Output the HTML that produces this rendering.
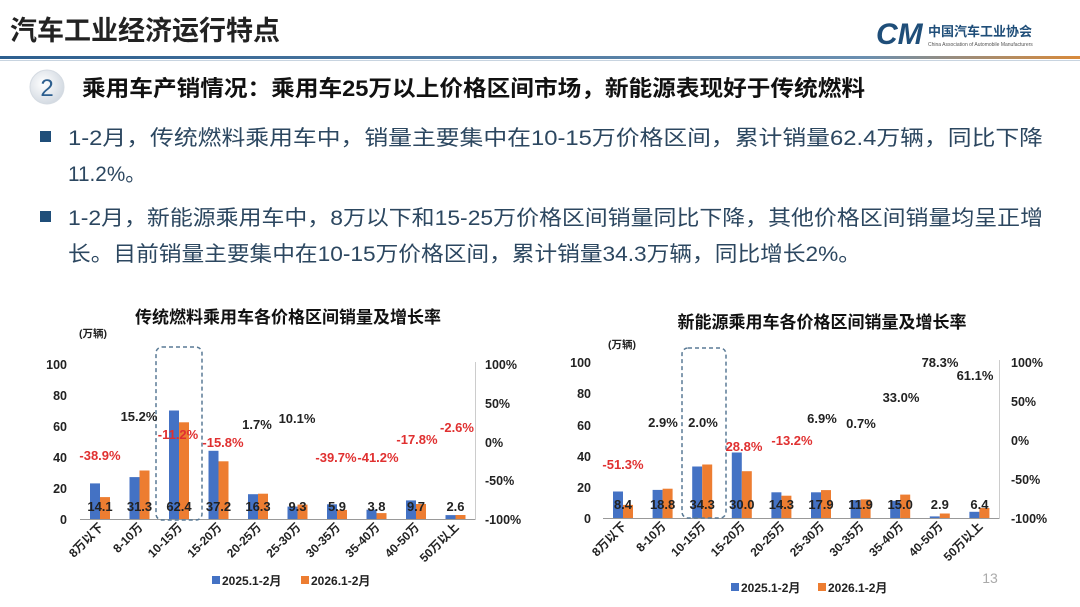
<!DOCTYPE html>
<html><head><meta charset="utf-8"><style>
html,body{margin:0;padding:0;background:#fff;}
svg{display:block;font-family:"Liberation Sans","Noto Sans CJK SC",sans-serif;}
</style></head><body>
<svg width="1080" height="607" viewBox="0 0 1080 607" xmlns="http://www.w3.org/2000/svg">
<defs>
<linearGradient id="ln" x1="0" x2="1" y1="0" y2="0">
<stop offset="0" stop-color="#2d5f8f"/><stop offset="0.8" stop-color="#6a8fb0"/><stop offset="1" stop-color="#d98a3a"/>
</linearGradient>
<radialGradient id="circ" cx="0.4" cy="0.4" r="0.7"><stop offset="0" stop-color="#ffffff"/><stop offset="1" stop-color="#cdd5de"/></radialGradient>
</defs>
<rect width="1080" height="607" fill="#fff"/>
<text x="10" y="40" font-size="27" font-weight="bold" fill="#222">汽车工业经济运行特点</text>
<text x="876" y="44" font-size="30" font-weight="bold" font-style="italic" fill="#1f4e79">CM</text>
<text x="928" y="36" font-size="13" font-weight="bold" fill="#1f4e79">中国汽车工业协会</text>
<text x="928" y="46" font-size="5" fill="#555">China Association of Automobile Manufacturers</text>
<rect x="0" y="56" width="1080" height="3" fill="url(#ln)"/>
<rect x="0" y="60" width="1080" height="1" fill="#c8d4e0"/>
<circle cx="47" cy="87" r="17" fill="url(#circ)" stroke="#d5dbe2"/>
<text x="47" y="96" font-size="24" fill="#2d5f8f" text-anchor="middle">2</text>
<text x="82" y="96" font-size="22" font-weight="bold" fill="#111" textLength="783" lengthAdjust="spacingAndGlyphs">乘用车产销情况：乘用车25万以上价格区间市场，新能源表现好于传统燃料</text>
<g fill="#2c4760" font-size="21">
<rect x="40" y="131" width="11" height="11" fill="#1f4e79"/>
<text x="68" y="145" textLength="975" lengthAdjust="spacingAndGlyphs">1-2月，传统燃料乘用车中，销量主要集中在10-15万价格区间，累计销量62.4万辆，同比下降</text>
<text x="68" y="181" textLength="78" lengthAdjust="spacingAndGlyphs">11.2%。</text>
<rect x="40" y="211" width="11" height="11" fill="#1f4e79"/>
<text x="68" y="225" textLength="975" lengthAdjust="spacingAndGlyphs">1-2月，新能源乘用车中，8万以下和15-25万价格区间销量同比下降，其他价格区间销量均呈正增</text>
<text x="68" y="261" textLength="793" lengthAdjust="spacingAndGlyphs">长。目前销量主要集中在10-15万价格区间，累计销量34.3万辆，同比增长2%。</text>
</g>

<!-- LEFT CHART -->
<g font-weight="bold">
<text x="288" y="323" font-size="17" text-anchor="middle" fill="#111">传统燃料乘用车各价格区间销量及增长率</text>
<text x="93" y="337" font-size="10.5" text-anchor="middle" fill="#222">(万辆)</text>
<g font-size="12.5" fill="#222" text-anchor="end">
<text x="67" y="524">0</text><text x="67" y="493">20</text><text x="67" y="462">40</text><text x="67" y="431">60</text><text x="67" y="400">80</text><text x="67" y="369">100</text>
</g>
<g font-size="12.5" fill="#222">
<text x="485" y="369">100%</text><text x="485" y="408">50%</text><text x="485" y="447">0%</text><text x="485" y="485">-50%</text><text x="485" y="524">-100%</text>
</g>
<line x1="80" y1="519.5" x2="476" y2="519.5" stroke="#999"/>
<line x1="475.5" y1="362" x2="475.5" y2="520" stroke="#ccc"/>
<g fill="#4472c4">
<rect x="90" y="483.4" width="10" height="35.6"/><rect x="129.5" y="477.1" width="10" height="41.9"/><rect x="169" y="410.5" width="10" height="108.5"/><rect x="208.5" y="450.8" width="10" height="68.2"/><rect x="248" y="494.2" width="10" height="24.8"/><rect x="287.5" y="506.6" width="10" height="12.4"/><rect x="327" y="504.3" width="10" height="14.7"/><rect x="366.5" y="509.7" width="10" height="9.3"/><rect x="406" y="500.4" width="10" height="18.6"/><rect x="445.5" y="515.1" width="10" height="3.9"/>
</g>
<g fill="#ed7d31">
<rect x="100" y="497.1" width="10" height="21.9"/><rect x="139.5" y="470.5" width="10" height="48.5"/><rect x="179" y="422.3" width="10" height="96.7"/><rect x="218.5" y="461.3" width="10" height="57.7"/><rect x="258" y="493.7" width="10" height="25.3"/><rect x="297.5" y="504.6" width="10" height="14.4"/><rect x="337" y="509.9" width="10" height="9.1"/><rect x="376.5" y="513.1" width="10" height="5.9"/><rect x="416" y="504" width="10" height="15"/><rect x="455.5" y="515" width="10" height="4"/>
</g>
<rect x="156" y="347" width="46" height="173" rx="6" fill="none" stroke="#5a7a95" stroke-width="1.5" stroke-dasharray="4,3"/>
<g font-size="13" fill="#222" text-anchor="middle">
<text x="100" y="511">14.1</text><text x="139.5" y="511">31.3</text><text x="179" y="511">62.4</text><text x="218.5" y="511">37.2</text><text x="258" y="511">16.3</text><text x="297.5" y="511">9.3</text><text x="337" y="511">5.9</text><text x="376.5" y="511">3.8</text><text x="416" y="511">9.7</text><text x="455.5" y="511">2.6</text>
</g>
<g font-size="13" text-anchor="middle">
<text x="100" y="460" fill="#e03030">-38.9%</text>
<text x="139" y="421" fill="#222">15.2%</text>
<text x="178" y="439" fill="#e03030">-11.2%</text>
<text x="223" y="447" fill="#e03030">-15.8%</text>
<text x="257" y="429" fill="#222">1.7%</text>
<text x="297" y="423" fill="#222">10.1%</text>
<text x="336" y="462" fill="#e03030">-39.7%</text>
<text x="378" y="462" fill="#e03030">-41.2%</text>
<text x="417" y="444" fill="#e03030">-17.8%</text>
<text x="457" y="432" fill="#e03030">-2.6%</text>
</g>
<g font-size="12" fill="#222" text-anchor="end">
<text transform="translate(104,528) rotate(-45)">8万以下</text>
<text transform="translate(143.5,528) rotate(-45)">8-10万</text>
<text transform="translate(183,528) rotate(-45)">10-15万</text>
<text transform="translate(222.5,528) rotate(-45)">15-20万</text>
<text transform="translate(262,528) rotate(-45)">20-25万</text>
<text transform="translate(301.5,528) rotate(-45)">25-30万</text>
<text transform="translate(341,528) rotate(-45)">30-35万</text>
<text transform="translate(380.5,528) rotate(-45)">35-40万</text>
<text transform="translate(420,528) rotate(-45)">40-50万</text>
<text transform="translate(459.5,528) rotate(-45)">50万以上</text>
</g>
<rect x="212" y="576" width="8" height="8" fill="#4472c4"/><text x="222" y="585" font-size="12" fill="#222">2025.1-2月</text>
<rect x="301" y="576" width="8" height="8" fill="#ed7d31"/><text x="311" y="585" font-size="12" fill="#222">2026.1-2月</text>
</g>

<!-- RIGHT CHART -->
<g font-weight="bold">
<text x="822" y="328" font-size="17" text-anchor="middle" fill="#111">新能源乘用车各价格区间销量及增长率</text>
<text x="622" y="348" font-size="10.5" text-anchor="middle" fill="#222">(万辆)</text>
<g font-size="12.5" fill="#222" text-anchor="end">
<text x="591" y="523">0</text><text x="591" y="492">20</text><text x="591" y="461">40</text><text x="591" y="430">60</text><text x="591" y="398">80</text><text x="591" y="367">100</text>
</g>
<g font-size="12.5" fill="#222">
<text x="1011" y="367">100%</text><text x="1011" y="406">50%</text><text x="1011" y="445">0%</text><text x="1011" y="484">-50%</text><text x="1011" y="523">-100%</text>
</g>
<line x1="603" y1="518.5" x2="1000" y2="518.5" stroke="#999"/>
<line x1="999.5" y1="360" x2="999.5" y2="519" stroke="#ccc"/>
<g fill="#4472c4">
<rect x="613" y="491.5" width="10" height="26.5"/><rect x="652.6" y="489.9" width="10" height="28.1"/><rect x="692.2" y="466.5" width="10" height="51.5"/><rect x="731.8" y="452.5" width="10" height="65.5"/><rect x="771.4" y="492.3" width="10" height="25.7"/><rect x="811" y="492.3" width="10" height="25.7"/><rect x="850.6" y="500.1" width="10" height="17.9"/><rect x="890.2" y="500.8" width="10" height="17.2"/><rect x="929.8" y="516.4" width="10" height="1.6"/><rect x="969.4" y="511.8" width="10" height="6.2"/>
</g>
<g fill="#ed7d31">
<rect x="623" y="504.9" width="10" height="13.1"/><rect x="662.6" y="488.7" width="10" height="29.3"/><rect x="702.2" y="464.5" width="10" height="53.5"/><rect x="741.8" y="471.2" width="10" height="46.8"/><rect x="781.4" y="495.7" width="10" height="22.3"/><rect x="821" y="490.1" width="10" height="27.9"/><rect x="860.6" y="499.4" width="10" height="18.6"/><rect x="900.2" y="494.6" width="10" height="23.4"/><rect x="939.8" y="513.5" width="10" height="4.5"/><rect x="979.4" y="508" width="10" height="10"/>
</g>
<rect x="682" y="348" width="44" height="170" rx="6" fill="none" stroke="#5a7a95" stroke-width="1.5" stroke-dasharray="4,3"/>
<g font-size="13" fill="#222" text-anchor="middle">
<text x="623" y="509">8.4</text><text x="662.6" y="509">18.8</text><text x="702.2" y="509">34.3</text><text x="741.8" y="509">30.0</text><text x="781.4" y="509">14.3</text><text x="821" y="509">17.9</text><text x="860.6" y="509">11.9</text><text x="900.2" y="509">15.0</text><text x="939.8" y="509">2.9</text><text x="979.4" y="509">6.4</text>
</g>
<g font-size="13" text-anchor="middle">
<text x="623" y="469" fill="#e03030">-51.3%</text>
<text x="663" y="427" fill="#222">2.9%</text>
<text x="703" y="427" fill="#222">2.0%</text>
<text x="744" y="451" fill="#e03030">28.8%</text>
<text x="792" y="445" fill="#e03030">-13.2%</text>
<text x="822" y="423" fill="#222">6.9%</text>
<text x="861" y="428" fill="#222">0.7%</text>
<text x="901" y="402" fill="#222">33.0%</text>
<text x="940" y="367" fill="#222">78.3%</text>
<text x="975" y="380" fill="#222">61.1%</text>
</g>
<g font-size="12" fill="#222" text-anchor="end">
<text transform="translate(627,527) rotate(-45)">8万以下</text>
<text transform="translate(666.6,527) rotate(-45)">8-10万</text>
<text transform="translate(706.2,527) rotate(-45)">10-15万</text>
<text transform="translate(745.8,527) rotate(-45)">15-20万</text>
<text transform="translate(785.4,527) rotate(-45)">20-25万</text>
<text transform="translate(825,527) rotate(-45)">25-30万</text>
<text transform="translate(864.6,527) rotate(-45)">30-35万</text>
<text transform="translate(904.2,527) rotate(-45)">35-40万</text>
<text transform="translate(943.8,527) rotate(-45)">40-50万</text>
<text transform="translate(983.4,527) rotate(-45)">50万以上</text>
</g>
<rect x="731" y="583" width="8" height="8" fill="#4472c4"/><text x="741" y="592" font-size="12" fill="#222">2025.1-2月</text>
<rect x="818" y="583" width="8" height="8" fill="#ed7d31"/><text x="828" y="592" font-size="12" fill="#222">2026.1-2月</text>
</g>
<text x="990" y="583" font-size="14" fill="#aaa" text-anchor="middle">13</text>
</svg>
</body></html>
